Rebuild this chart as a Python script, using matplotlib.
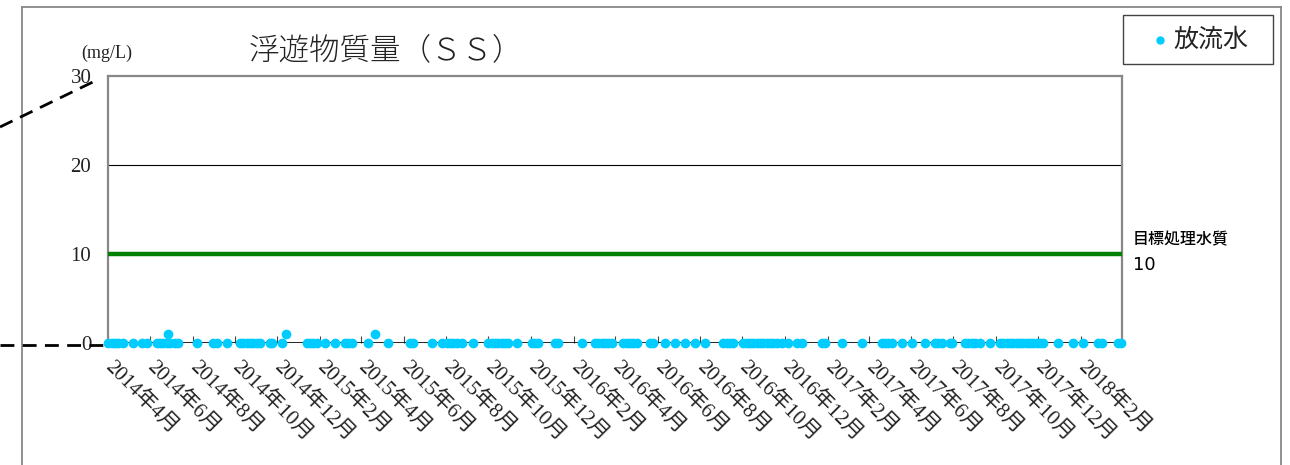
import numpy as np
import pandas as pd
import matplotlib
matplotlib.use('Agg')
import matplotlib.pyplot as plt
from matplotlib.lines import Line2D
from matplotlib.patches import Rectangle

plt.rcParams['font.family'] = ['Liberation Serif', 'Noto Sans CJK JP', 'DejaVu Sans']

# sampling dates of the effluent (放流水) SS values
dates = [
    '2014-04-01', '2014-04-07', '2014-04-11', '2014-04-15', '2014-04-23', '2014-05-07',
    '2014-05-20', '2014-05-27', '2014-06-11', '2014-06-15', '2014-06-19', '2014-06-25',
    '2014-06-26', '2014-06-29', '2014-07-06', '2014-07-11', '2014-08-07', '2014-08-30',
    '2014-09-05', '2014-09-19', '2014-10-08', '2014-10-13', '2014-10-18', '2014-10-23',
    '2014-10-27', '2014-11-02', '2014-11-06', '2014-11-20', '2014-11-23', '2014-12-08',
    '2014-12-13', '2015-01-13', '2015-01-17', '2015-01-21', '2015-01-27', '2015-02-08',
    '2015-02-22', '2015-03-09', '2015-03-13', '2015-03-19', '2015-04-11', '2015-04-21',
    '2015-05-09', '2015-06-10', '2015-06-15', '2015-07-12', '2015-07-26', '2015-08-02',
    '2015-08-07', '2015-08-11', '2015-08-17', '2015-08-24', '2015-09-09', '2015-10-01',
    '2015-10-06', '2015-10-11', '2015-10-15', '2015-10-21', '2015-10-25', '2015-10-29',
    '2015-11-11', '2015-12-03', '2015-12-07', '2015-12-12', '2016-01-05', '2016-01-09',
    '2016-02-13', '2016-03-03', '2016-03-07', '2016-03-13', '2016-03-17', '2016-03-21',
    '2016-03-27', '2016-04-12', '2016-04-18', '2016-04-22', '2016-04-27', '2016-05-02',
    '2016-05-21', '2016-05-25', '2016-06-12', '2016-06-26', '2016-07-10', '2016-07-25',
    '2016-08-08', '2016-09-03', '2016-09-09', '2016-09-13', '2016-09-18', '2016-10-02',
    '2016-10-08', '2016-10-12', '2016-10-16', '2016-10-22', '2016-10-27', '2016-10-31',
    '2016-11-06', '2016-11-10', '2016-11-14', '2016-11-20', '2016-11-27', '2016-12-06',
    '2016-12-19', '2016-12-26', '2017-01-24', '2017-01-28', '2017-02-22', '2017-03-23',
    '2017-04-20', '2017-04-25', '2017-04-29', '2017-05-05', '2017-05-19', '2017-06-03',
    '2017-06-21', '2017-07-06', '2017-07-10', '2017-07-16', '2017-07-27', '2017-07-30',
    '2017-08-18', '2017-08-22', '2017-08-28', '2017-09-01', '2017-09-09', '2017-09-23',
    '2017-10-07', '2017-10-12', '2017-10-17', '2017-10-22', '2017-10-26', '2017-11-01',
    '2017-11-05', '2017-11-10', '2017-11-15', '2017-11-20', '2017-11-24', '2017-11-30',
    '2017-12-04', '2017-12-08', '2017-12-30', '2018-01-21', '2018-02-04', '2018-02-26',
    '2018-03-03', '2018-03-26', '2018-03-31',
]
# all values sit on zero except three samples at about 1 mg/L
raised = ['2014-06-26', '2014-12-13', '2015-04-21']
raised_value = 1.0
ss_values = [raised_value if d in raised else 0.0 for d in dates]

target_value = 10
target_label = '目標処理水質'
series_name = '放流水'
title = '浮遊物質量（ＳＳ）'
unit = '(mg/L)'
y_ticks = [0, 10, 20, 30]
x_start, x_end = '2014-04-01', '2018-04-01'
tick_months = pd.date_range('2014-04-01', '2018-02-01', freq='2MS')
tick_labels = [f'{d.year}年{d.month}月' for d in tick_months]

W, H = 1290, 465
fig = plt.figure(figsize=(W/100, H/100), dpi=100)
ax = fig.add_axes([108/W, 1-343/H, (1122-108)/W, (343-76)/H])

x = pd.to_datetime(dates)
ax.plot(x, ss_values, ls='none', marker='o', ms=6, color='#00CCFF', mec='#00CCFF',
        clip_on=False, zorder=5)

ax.axhline(target_value, color='#008000', lw=3.2, zorder=3)
ax.axhline(20, color='black', lw=0.8, zorder=2)
ax.axhline(0, color='black', lw=1.2, zorder=2)

ax.set_xlim(pd.Timestamp(x_start), pd.Timestamp(x_end))
ax.set_ylim(0, 30)
ax.set_yticks(y_ticks)
ax.set_yticklabels([str(v) for v in y_ticks], fontsize=15, color='#222222')
ax.tick_params(axis='y', length=0, pad=12)

ax.set_xticks(tick_months)
ax.set_xticklabels(tick_labels, rotation=-45, ha='left', va='center',
                   rotation_mode='anchor', fontsize=15, color='#222222')
ax.tick_params(axis='x', direction='in', length=5, width=0.8, pad=15, color='#444444')

for side in ['left', 'top', 'right']:
    ax.spines[side].set_color('#888888')
    ax.spines[side].set_linewidth(1.6)
ax.spines['bottom'].set_visible(False)

# outer chart frame
frame_kw = dict(color='#888888', lw=1.3, transform=fig.transFigure)
fig.add_artist(Line2D([22/W, 22/W], [0, 1-7/H], **frame_kw))
fig.add_artist(Line2D([22/W, 1281/W], [1-7/H, 1-7/H], **frame_kw))
fig.add_artist(Line2D([1281/W, 1281/W], [0, 1-7/H], **frame_kw))

# dashed leader lines on the left
dash_kw = dict(color='black', lw=2, ls=(0, (5, 3)), transform=fig.transFigure)
fig.add_artist(Line2D([0, 97/W], [1-127/H, 1-80/H], **dash_kw))
fig.add_artist(Line2D([0, 104/W], [1-345/H, 1-345/H], **dash_kw))

fig.text(386/W, 1-50/H, title, fontsize=22, ha='center', va='center',
         family=['Noto Sans CJK JP'], fontweight='light', color='#222222')
fig.text(107/W, 1-53/H, unit, fontsize=13, ha='center', va='center', color='#222222')

fig.text(1133/W, 1-240/H, target_label, fontsize=11.5, ha='left', va='center',
         family=['Noto Sans CJK JP'], fontweight='medium')
fig.text(1133/W, 1-265/H, str(target_value), fontsize=13, ha='left', va='center',
         family=['DejaVu Sans'])

# legend box, drawn by hand so it matches the original frame
fig.add_artist(Rectangle((1123/W, 1-64/H), 150/W, 49/H, transform=fig.transFigure,
                         facecolor='white', edgecolor='#444444', lw=1))
fig.add_artist(Line2D([1160/W], [1-40/H], ls='none', marker='o', ms=5, color='#00CCFF',
                      transform=fig.transFigure))
fig.text(1173/W, 1-40/H, series_name, fontsize=18, ha='left', va='center',
         family=['Noto Sans CJK JP'], color='#222222')

fig.savefig('out.png', dpi=100)
